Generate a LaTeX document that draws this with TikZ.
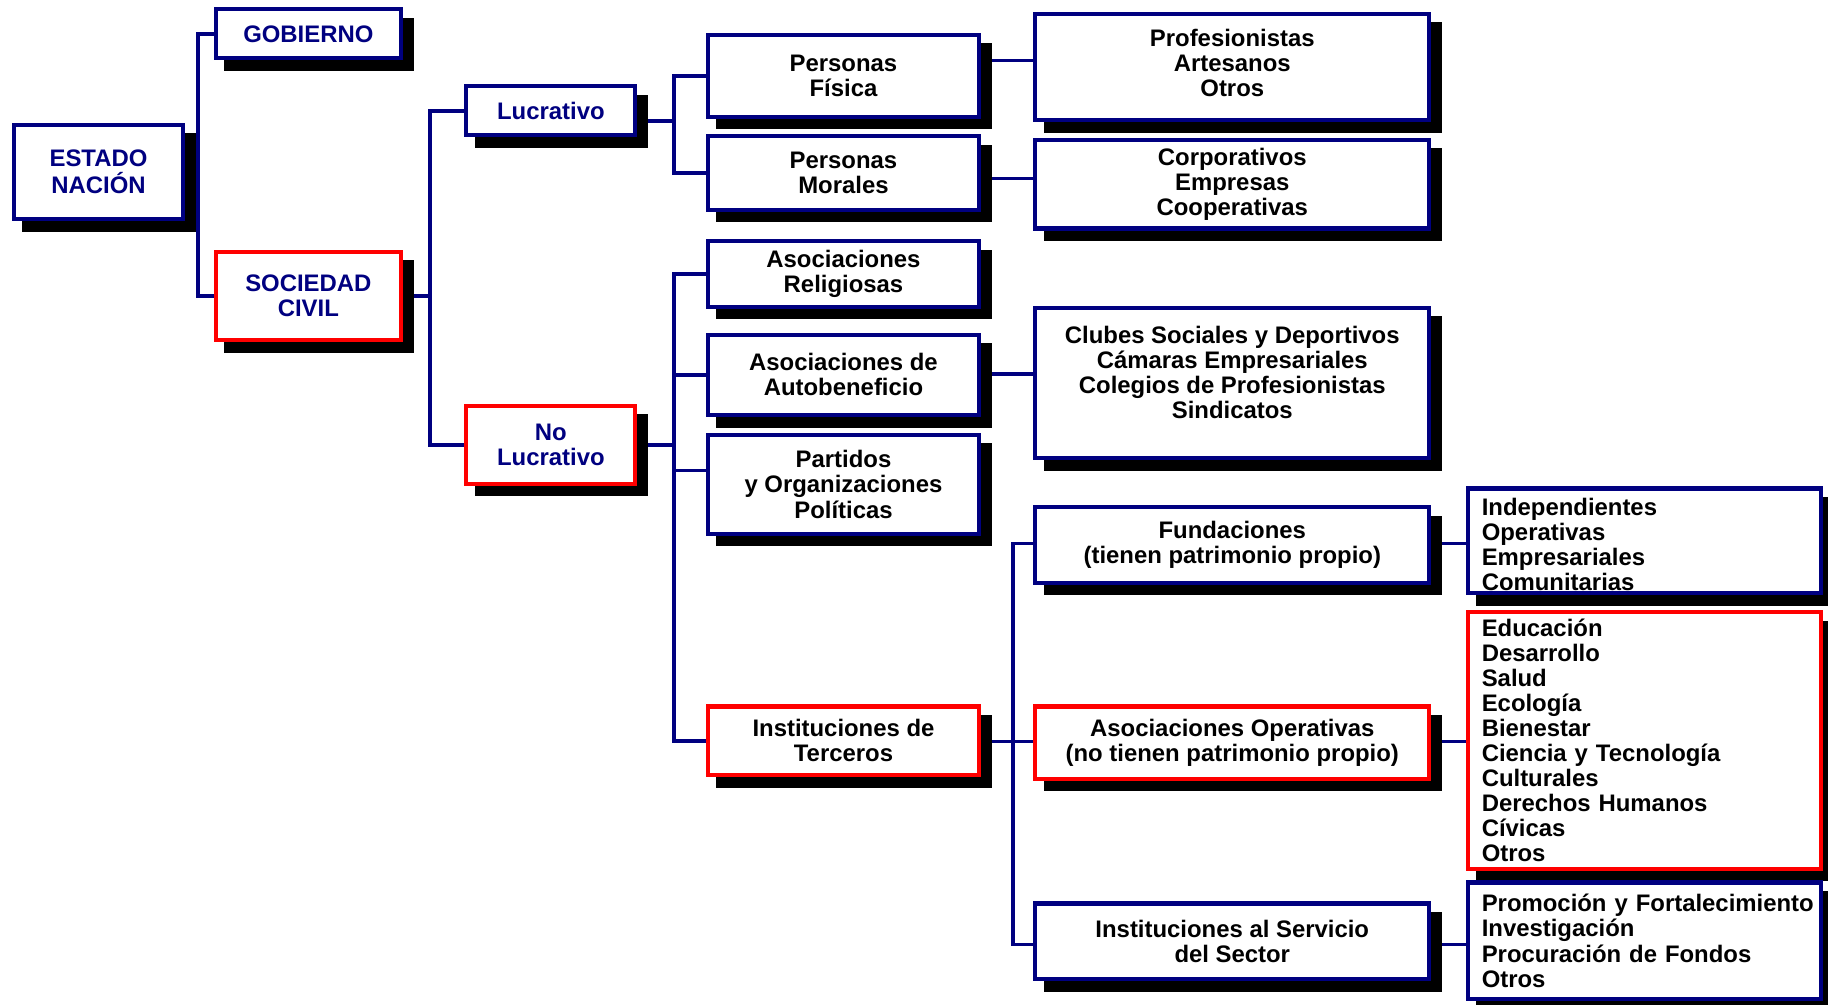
\documentclass[tikz,border=0pt]{standalone}
\usepackage{fontspec}
\setmainfont{Liberation Sans}
\usetikzlibrary{shadows,backgrounds}
\definecolor{navy}{RGB}{0,0,128}
\definecolor{bred}{RGB}{255,0,0}
\begin{document}
\begin{tikzpicture}[x=1pt,y=-1pt,
  font=\fontsize{20.5}{21.5}\selectfont\bfseries,
  box/.style={draw=navy, line width=3.5pt, fill=white, inner sep=0pt, align=center,
    general shadow={fill=black, draw=black, line width=3.5pt, shadow xshift=9pt, shadow yshift=-9pt}},
  redbox/.style={box, draw=bred},
  navytext/.style={text=navy},
  listbox/.style={box, align=left, text width=279pt},
  txt/.style={inner sep=0pt, align=center},
  listtxt/.style={inner sep=0pt, align=left, text width=279pt},
  link/.style={draw=navy, line width=3pt},
]
\useasboundingbox (0,0) rectangle (1568,862);

% level 1
\node[box, navytext, minimum width=145pt, minimum height=81pt] (estado) at (84.5,147.5) {ESTADO\\[1.5pt]NACIÓN};
% level 2
\node[box, navytext, minimum width=159pt, minimum height=42pt] (gob) at (264.5,29) {GOBIERNO};
\node[redbox, navytext, minimum width=159pt, minimum height=76pt] (soc) at (264.5,254) {SOCIEDAD\\CIVIL};
% level 3
\node[box, navytext, minimum width=145pt, minimum height=42pt] (luc) at (472.5,95) {Lucrativo};
\node[redbox, navytext, minimum width=145pt, minimum height=67pt] (noluc) at (472.5,381.5) {No\\Lucrativo};
% level 4
\node[box, minimum width=233pt, minimum height=70pt] (fis) at (723.5,65) {Personas\\Física};
\node[box, minimum width=233pt, minimum height=63pt] (mor) at (723.5,148.5) {Personas\\Morales};
\node[box, minimum width=233pt, minimum height=56pt] (rel) at (723.5,235) {Asociaciones\\Religiosas};
\node[box, minimum width=233pt, minimum height=69pt] (aut) at (723.5,321.5) {Asociaciones de\\Autobeneficio};
\node[box, minimum width=233pt, minimum height=85pt] (par) at (723.5,415.5) {Partidos\\y Organizaciones\\Políticas};
\node[redbox, minimum width=233pt, minimum height=59pt] (ter) at (723.5,635.5) {Instituciones de\\Terceros};
% level 5
\node[box, minimum width=338pt, minimum height=91pt] (prof) at (1057,57.5) {};
\node[txt] (profT) at (1057,54) {Profesionistas\\Artesanos\\Otros};
\node[box, minimum width=338pt, minimum height=76pt] (corp) at (1057,158) {Corporativos\\Empresas\\Cooperativas};
\node[box, minimum width=338pt, minimum height=129pt] (club) at (1057,328.5) {};
\node[txt] (clubT) at (1057,319.5) {Clubes Sociales y Deportivos\\Cámaras Empresariales\\Colegios de Profesionistas\\Sindicatos};
\node[box, minimum width=338pt, minimum height=65pt] (fund) at (1057,467.5) {Fundaciones\\(tienen patrimonio propio)};
\node[redbox, minimum width=338pt, minimum height=62pt] (asop) at (1057,637) {Asociaciones Operativas\\(no tienen patrimonio propio)};
\node[box, minimum width=338pt, minimum height=65pt] (serv) at (1057,807.5) {Instituciones al Servicio\\del Sector};
% level 6
\node[box, minimum width=303pt, minimum height=90pt] (indep) at (1410.5,464) {};
\node[listtxt] (indepT) at (1410.5,467) {Independientes\\Operativas\\Empresariales\\Comunitarias};
\node[listbox, draw=bred, minimum width=303pt, minimum height=220pt] (educ) at (1410.5,635) {Educación\\Desarrollo\\Salud\\Ecología\\Bienestar\\Ciencia y Tecnología\\Culturales\\Derechos Humanos\\Cívicas\\Otros};
\node[listbox, minimum width=303pt, minimum height=100pt] (prom) at (1410.5,807) {\mbox{Promoción y Fortalecimiento}\\Investigación\\Procuración de Fondos\\Otros};

% bus coordinates
\coordinate (busA) at (170,153);
\coordinate (busB) at (369,0);
\coordinate (busC) at (578,0);
\coordinate (busD) at (869,0);
\coordinate (yfp) at (0,52);
\coordinate (ymc) at (0,153);
\coordinate (yac) at (0,321);
\coordinate (ytd) at (0,636);
\coordinate (yfu) at (0,466);
\coordinate (yse) at (0,810);

\begin{pgfonlayer}{background}
\draw[link] (estado.east |- busA) -- (busA);
\draw[link] (gob.west) -- (gob.west -| busA) -- (soc.west -| busA) -- (soc.west);

\draw[link] (soc.east) -- (soc.east -| busB);
\draw[link] (luc.west) -- (luc.west -| busB) -- (noluc.west -| busB) -- (noluc.west);

\draw[link] ([yshift=-9pt]luc.east) -- ([yshift=-9pt]luc.east -| busC);
\draw[link] (fis.west) -- (fis.west -| busC) -- (mor.west -| busC) -- (mor.west);

\draw[link] (noluc.east) -- (noluc.east -| busC);
\draw[link] (rel.west) -- (rel.west -| busC) -- (ter.west -| busC) -- (ter.west);
\draw[link] (aut.west) -- (aut.west -| busC);
\draw[link] ([yshift=12pt]par.west) -- ([yshift=12pt]par.west -| busC);

\draw[link] (fis.east |- yfp) -- (prof.west |- yfp);
\draw[link] (mor.east |- ymc) -- (corp.west |- ymc);
\draw[link] (aut.east |- yac) -- (club.west |- yac);

\draw[link] (ter.east |- ytd) -- (asop.west |- ytd);
\draw[link] (fund.west |- yfu) -- (busD |- yfu) -- (busD |- yse) -- (serv.west |- yse);

\draw[link] (fund.east |- yfu) -- (indep.west |- yfu);
\draw[link] (asop.east |- ytd) -- (educ.west |- ytd);
\draw[link] (serv.east |- yse) -- (prom.west |- yse);
\end{pgfonlayer}
\end{tikzpicture}
\end{document}
